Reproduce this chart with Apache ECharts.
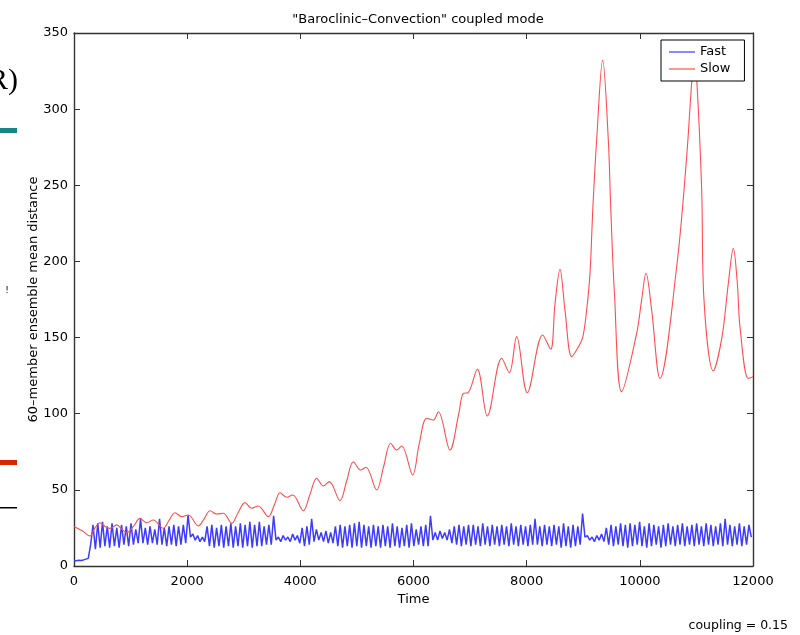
<!DOCTYPE html>
<html>
<head>
<meta charset="utf-8">
<script src="https://cdn.jsdelivr.net/npm/echarts@6/dist/echarts.min.js"></script>
<style>
html,body{margin:0;padding:0;background:#fff;}
#chart{width:800px;height:635px;}
</style>
</head>
<body>
<div id="chart"></div>
<script>
// ---- data ----
var titleText = '"Baroclinic\u2013Convection" coupled mode';
var xTickValues = [0, 2000, 4000, 6000, 8000, 10000, 12000];
var yTickValues = [0, 50, 100, 150, 200, 250, 300, 350];

// Slow: [time, distance]
var slowData = [
  [0,26],[150,23],[283,19.7],[370,25],[459,28.4],[550,26],[636,24.7],[754,27],[850,24],[931,21.9],
  [1050,26],[1166,31.3],[1285,28.4],[1402,30.2],[1579,24.7],[1680,30],[1785,35],[1903,32.4],[2021,33.5],
  [2197,26.3],[2300,31],[2404,36.3],[2521,34.1],[2639,34.6],[2787,28],[2900,35],[3022,41.6],[3140,37.9],
  [3257,39.4],[3434,32.4],[3540,40],[3641,48.1],[3759,45.1],[3865,46.6],[4053,36.3],[4170,47],[4289,57.6],
  [4406,52.5],[4512,55.4],[4701,42.9],[4820,56],[4936,68.5],[5066,63],[5160,64.8],[5349,49.9],[5470,65],
  [5596,80.6],[5703,76.2],[5791,78.8],[5985,59.8],[6100,80],[6233,97],[6350,95.9],[6439,101.3],[6645,76.2],
  [6800,100],[6880,113.4],[6963,113.8],[7128,129.2],[7304,98.5],[7559,136.4],[7693,126.9],[7823,150.6],
  [8011,113.8],[8283,151.7],[8424,142.3],[8500,172],[8589,194.8],[8677,168],[8796,137.4],[8900,143],
  [8990,150],[9060,168],[9119,192],[9171,236],[9237,279.7],[9343,332.2],[9443,279.7],[9485,236],[9550,180],
  [9679,114.5],[9944,152.8],[10032,174.7],[10109,192.2],[10209,168],[10356,123.2],[10651,196.5],[10828,268.8],
  [10922,320],[10962,330],[11005,320],[11093,246.9],[11134,174.7],[11298,128.2],[11450,150],[11564,185.6],
  [11652,208.6],[11723,185.6],[11770,157.1],[11917,123.2],[12000,124.3]
];

// Fast: samples every fastStep time units starting at 0
var fastStep = 42;
var fastValues = [
  3.5,3.5,3.8,3.6,4,4.5,5,14,
  27,11,28,12,29,13,26,12,28,13,25,12,27,14,26,13,28,14,
  24,15,31,15,25,14,26,15,24,14,31,14,25,13,26,14,27,13,26,14,27,15,33.5,19,
  21,17,20,16,19,16,
  26,13,27,12,25,13,27,12,26,13,28,12,26,13,28,12,27,13,29,12,27,13,29,13,26,14,27,14,33,17,
  19,16,20,17,19,16,21,17,20,15,
  25,13,26,14,31,16,24,17,
  22,16,23,15,22,15,26,13,27,12,26,13,27,12,28,13,29,12,27,13,26,12,27,13,26,12,27,13,26,12,28,13,26,12,25,13,27,12,
  28,13,24,14,26,13,27,13,
  33,17,22,17,23,18,22,17,24,15,
  26,14,27,13,26,14,27,13,27,14,26,13,28,14,26,13,27,14,26,13,27,14,26,13,28,14,26,13,27,14,
  26,13,27,14,31,14,26,13,27,14,26,13,27,14,26,12,28,13,26,12,27,13,26,14,
  34.5,19,20,17,19,16,20,17,21,16,
  25,14,27,13,26,14,28,13,27,12,28,13,27,14,29,13,26,12,28,13,27,14,26,12,27,13,28,14,26,13,
  27,14,28,13,26,14,27,13,28,14,26,13,28,14,27,13,26,14,28,13,31,14,27,13,26,14,28,13,26,14,27,19
];

var fastData = fastValues.map(function (v, i) { return [i * fastStep, v]; });

var FONT = 'DejaVu Sans';
var chart = echarts.init(document.getElementById('chart'), null, {renderer: 'canvas'});

var axisLineStyle = {color: '#333', width: 1.4};
var tickStyle = {show: true, inside: true, length: 6, lineStyle: {color: '#333', width: 1}};

chart.setOption({
  animation: false,
  backgroundColor: '#fff',
  title: {
    text: titleText,
    left: 413, top: 8,
    textAlign: 'center',
    textStyle: {fontFamily: FONT, fontSize: 13, fontWeight: 'normal', color: '#000'}
  },
  legend: {
    data: [{name: 'Fast', icon: 'rect'}, {name: 'Slow', icon: 'rect'}],
    orient: 'vertical',
    left: 661, top: 40,
    itemWidth: 26, itemHeight: 1.2,
    itemGap: 3,
    padding: [5, 14, 5, 8],
    borderColor: '#000', borderWidth: 1,
    backgroundColor: '#fff',
    textStyle: {fontFamily: FONT, fontSize: 13, color: '#000', lineHeight: 14}
  },
  grid: {left: 74, right: 47, top: 33, bottom: 69, containLabel: false},
  xAxis: [{
    type: 'value', min: 0, max: 12000, interval: 2000,
    name: 'Time', nameLocation: 'middle', nameGap: 27,
    nameTextStyle: {fontFamily: FONT, fontSize: 13, color: '#000'},
    axisLine: {show: true, onZero: false, lineStyle: axisLineStyle},
    axisTick: tickStyle,
    axisLabel: {fontFamily: FONT, fontSize: 13, color: '#000', margin: 9,
      formatter: function (v) { return xTickValues.indexOf(v) >= 0 ? String(v) : ''; }},
    splitLine: {show: false}
  }, {
    type: 'value', min: 0, max: 12000, interval: 2000, position: 'top',
    axisLine: {show: true, onZero: false, lineStyle: axisLineStyle},
    axisTick: tickStyle,
    axisLabel: {show: false}, splitLine: {show: false}
  }],
  yAxis: [{
    type: 'value', min: 0, max: 350, interval: 50,
    name: '60\u2013member ensemble mean distance', nameLocation: 'middle', nameGap: 34,
    nameMoveOverlap: false,
    nameTextStyle: {fontFamily: FONT, fontSize: 13, color: '#000'},
    axisLine: {show: true, onZero: false, lineStyle: axisLineStyle},
    axisTick: tickStyle,
    axisLabel: {fontFamily: FONT, fontSize: 13, color: '#000', margin: 6,
      formatter: function (v) { return yTickValues.indexOf(v) >= 0 ? String(v) : ''; }},
    splitLine: {show: false}
  }, {
    type: 'value', min: 0, max: 350, interval: 50, position: 'right',
    axisLine: {show: true, onZero: false, lineStyle: axisLineStyle},
    axisTick: tickStyle,
    axisLabel: {show: false}, splitLine: {show: false}
  }],
  series: [{
    name: 'Fast', type: 'line', data: fastData,
    xAxisIndex: 0, yAxisIndex: 0,
    showSymbol: false, symbol: 'none',
    lineStyle: {color: '#3c3cff', width: 1.5},
    itemStyle: {color: '#3c3cff'}
  }, {
    name: 'Slow', type: 'line', data: slowData,
    xAxisIndex: 0, yAxisIndex: 0,
    showSymbol: false, symbol: 'none', smooth: 0.35,
    lineStyle: {color: '#ff4d4d', width: 1.1},
    itemStyle: {color: '#ff4d4d'}
  }],
  graphic: [
    {type: 'text', x: 18, y: 81, style: {text: 'R)', font: '30px "Liberation Serif"', fill: '#000', textAlign: 'right', textVerticalAlign: 'middle'}},
    {type: 'rect', shape: {x: 0, y: 128, width: 17, height: 5}, style: {fill: '#168585'}},
    {type: 'text', x: 7, y: 291, style: {text: '!', font: '9px "DejaVu Sans"', fill: '#000', textAlign: 'center', textVerticalAlign: 'middle'}},
    {type: 'rect', shape: {x: 0, y: 460, width: 17, height: 5}, style: {fill: '#d42a00'}},
    {type: 'rect', shape: {x: 0, y: 507, width: 17, height: 1.5}, style: {fill: '#000'}},
    {type: 'text', x: 788, y: 626, style: {text: 'coupling = 0.15', font: '12.5px "DejaVu Sans"', fill: '#000', textAlign: 'right', textVerticalAlign: 'middle'}}
  ]
});
</script>
</body>
</html>
